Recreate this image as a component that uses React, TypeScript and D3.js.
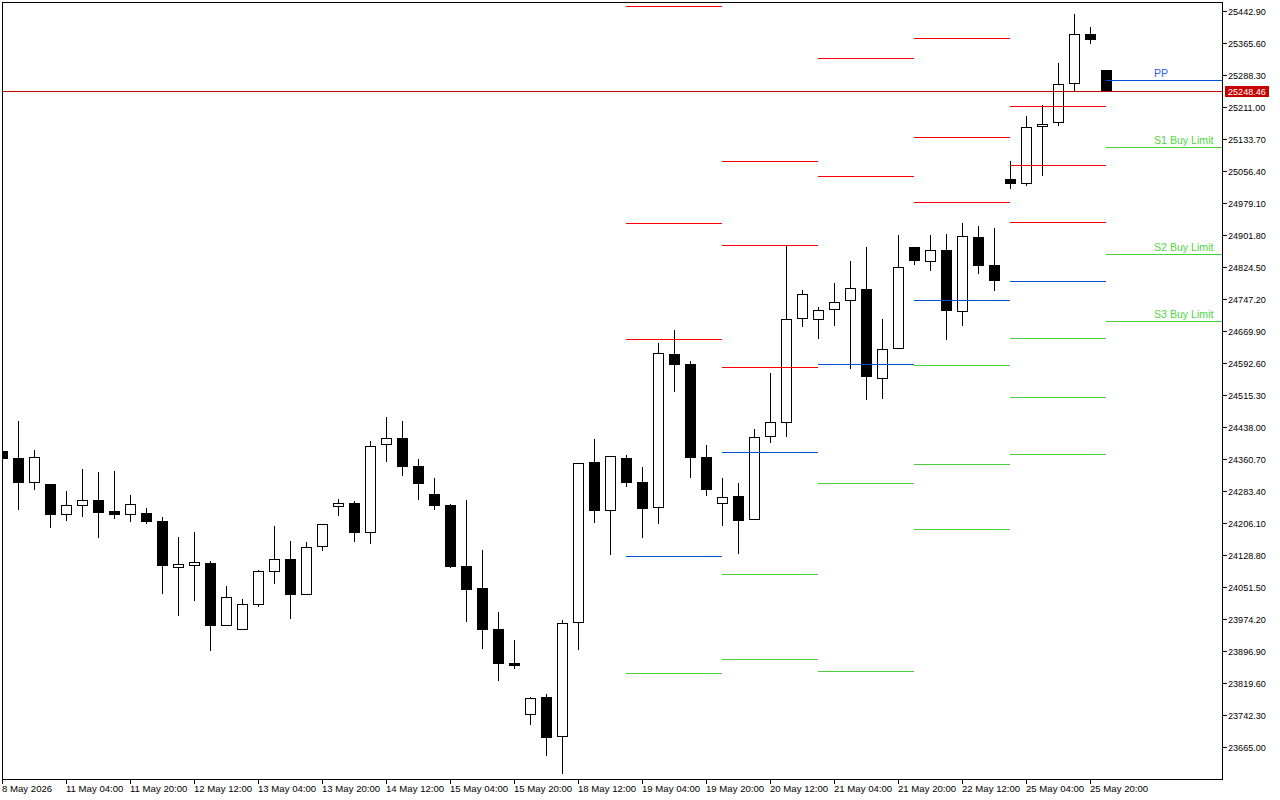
import React from "react";
import * as d3 from "d3";

const opens = [24380.0,24363.1,24302.7,24300.3,24225.4,24247.2,24261.7,24235.1,24225.4,24230.3,24210.9,24097.4,24102.2,24109.5,23957.3,23947.6,24008.0,24087.7,24119.1,24032.2,24148.1,24244.7,24254.4,24182.0,24394.5,24411.4,24343.8,24276.2,24249.6,24102.2,24049.1,23950.0,23867.9,23742.3,23785.8,23689.2,23964.5,24353.5,24235.1,24363.1,24305.1,24242.3,24614.3,24590.2,24365.5,24252.0,24271.3,24213.3,24413.8,24447.7,24698.9,24696.5,24720.6,24742.4,24771.4,24553.9,24626.4,24872.8,24836.6,24865.6,24715.8,24897.0,24829.3,25037.1,25025.0,25162.7,25172.3,25266.6,25387.3,25300.4];
const highs = [24380.0,24452.5,24382.4,24300.3,24283.4,24336.5,24329.3,24331.7,24273.7,24242.3,24220.6,24172.3,24184.4,24114.3,24053.9,24022.5,24092.6,24198.9,24162.6,24160.2,24203.7,24264.1,24259.2,24404.2,24462.2,24452.5,24360.7,24314.8,24252.0,24261.7,24140.9,23991.1,23923.5,23785.8,23793.0,23971.8,24351.0,24409.0,24367.9,24370.4,24341.4,24640.9,24672.3,24597.4,24394.5,24314.8,24302.7,24433.2,24568.4,24877.6,24768.9,24727.9,24785.8,24839.0,24872.8,24698.9,24901.8,24872.8,24901.8,24904.2,24930.8,24923.5,24918.7,25080.6,25189.3,25215.8,25317.3,25435.7,25404.2,25300.4];
const lows = [24360.7,24237.5,24285.8,24194.0,24210.9,24220.6,24169.9,24215.8,24208.5,24203.7,24034.6,23981.5,24017.7,23896.9,23957.3,23947.6,24003.2,24058.7,23974.2,24032.2,24138.5,24223.0,24160.2,24155.4,24353.5,24319.6,24261.7,24237.5,24097.4,23967.0,23901.7,23824.4,23853.4,23718.1,23643.3,23599.8,23899.3,24206.1,24128.8,24293.1,24169.9,24203.7,24522.5,24314.8,24271.3,24198.9,24131.2,24213.3,24399.3,24413.8,24679.5,24650.6,24682.0,24578.1,24503.2,24505.6,24626.4,24829.3,24814.8,24648.2,24682.0,24807.6,24766.5,25012.9,25020.2,25044.3,25165.1,25249.7,25363.2,25248.46];
const closes = [24360.7,24302.7,24365.5,24225.4,24249.6,24261.7,24230.3,24225.4,24252.0,24208.5,24102.2,24107.1,24111.9,23957.3,24027.3,24010.4,24090.1,24119.1,24032.2,24148.1,24203.7,24254.4,24182.0,24392.1,24411.4,24341.4,24300.3,24247.2,24099.8,24044.3,23947.6,23865.5,23860.7,23783.4,23686.7,23964.5,24351.0,24235.1,24367.9,24302.7,24239.9,24616.8,24587.8,24363.1,24285.8,24268.9,24210.9,24413.8,24450.1,24698.9,24759.3,24720.6,24740.0,24773.8,24558.8,24626.4,24824.5,24839.0,24865.6,24718.2,24899.4,24826.9,24790.7,25025.0,25162.7,25169.9,25266.6,25387.3,25372.8,25248.46];

const priceTicks = ["25442.90","25365.60","25288.30","25211.00","25133.70","25056.40","24979.10","24901.80","24824.50","24747.20","24669.90","24592.60","24515.30","24438.00","24360.70","24283.40","24206.10","24128.80","24051.50","23974.20","23896.90","23819.60","23742.30","23665.00"];
const timeLabels = ["8 May 2026","11 May 04:00","11 May 20:00","12 May 12:00","13 May 04:00","13 May 20:00","14 May 12:00","15 May 04:00","15 May 20:00","18 May 12:00","19 May 04:00","19 May 20:00","20 May 12:00","21 May 04:00","21 May 20:00","22 May 12:00","25 May 04:00","25 May 20:00"];
const timeLabelEvery = 4;

// Daily pivot groups: [first bar index, last bar index]
const levelSpans = [[39,45],[45,51],[51,57],[57,63],[63,69],[69,76.25]];
const resistanceLevels = [[25455.0,24930.8,24650.6],[25080.6,24877.6,24582.9],[25329.4,25044.3],[25377.7,25138.5,24981.5],[25213.4,25070.9,24933.2],[]];
const pivotLevels = [24126.4,24377.6,24590.2,24744.8,24790.7,25276.2];
const supportLevels = [[23843.8],[24082.9,23877.6],[24302.7,23848.6],[24587.8,24348.6,24191.6],[24653.0,24510.5,24372.8],[25114.4,24855.9,24694.1]];
const lastPrice = 25248.46;
const levelLabels = ["PP","S1 Buy Limit","S2 Buy Limit","S3 Buy Limit"];
const labelledLevels = [25276.2,25114.4,24855.9,24694.1];

const RED = "#ff0000", BLUE = "#0050dc", GREEN = "#48d23c", PRICE_RED = "#c80000";
const FONT = "'Liberation Sans', sans-serif";
const W = 1280, H = 800, L = 2, T = 2, R = 1222, B = 779;

const yScale = d3.scaleLinear().domain([23665, 25442.9]).range([747, 11]);
const xScale = d3.scaleLinear().domain([0, 69]).range([2, 1106]);
const Y = (p: number) => Math.round(yScale(p));
const X = (i: number) => Math.round(xScale(i));

export default function App() {
  const hline = (p: number, x0: number, x1: number, c: string, k: string) => (
    <rect key={k} x={x0} y={Y(p)} width={x1 - x0} height={1} fill={c} />
  );
  return (
    <svg width={W} height={H} viewBox={`0 0 ${W} ${H}`} style={{ position: "absolute", left: 0, top: 0, background: "#fff" }}>
      <defs><clipPath id="plot"><rect x={L} y={T} width={R - L} height={B - T} /></clipPath></defs>
      <g clipPath="url(#plot)" shapeRendering="crispEdges">
        {opens.map((o, i) => {
          const c = closes[i], x = X(i), top = Y(Math.max(o, c)), bot = Y(Math.min(o, c));
          const up = c > o;
          return (
            <g key={i}>
              <rect x={x} y={Y(highs[i])} width={1} height={Y(lows[i]) - Y(highs[i])} fill="#000" />
              {up
                ? <rect x={x - 4.5} y={top + 0.5} width={10} height={bot - top - 1} fill="#fff" stroke="#000" strokeWidth={1} />
                : <rect x={x - 5} y={top} width={11} height={bot - top} fill="#000" />}
            </g>
          );
        })}
        {hline(lastPrice, L, R, PRICE_RED, "last")}
        {levelSpans.map(([a, b], s) => (
          <g key={s}>
            {resistanceLevels[s].map((p, j) => hline(p, X(a), X(b), RED, `r${j}`))}
            {hline(pivotLevels[s], X(a), X(b), BLUE, "p")}
            {supportLevels[s].map((p, j) => hline(p, X(a), X(b), GREEN, `s${j}`))}
          </g>
        ))}
      </g>
      {levelLabels.map((t, i) => (
        <text key={t} x={1154} y={Y(labelledLevels[i]) - 3} fontFamily={FONT} fontSize={10.6} fill={i === 0 ? "#2a62e6" : "#4fd63f"}>{t}</text>
      ))}
      <g shapeRendering="crispEdges">
        <rect x={L} y={T} width={R - L} height={1} fill="#000" />
        <rect x={L} y={B} width={R - L + 1} height={1} fill="#000" />
        <rect x={L} y={T} width={1} height={B - T} fill="#000" />
        <rect x={R} y={T} width={1} height={B - T} fill="#000" />
        {priceTicks.map((t) => <rect key={t} x={R} y={Y(+t)} width={5} height={1} fill="#000" />)}
        {timeLabels.map((t, i) => <rect key={t} x={X(i * timeLabelEvery)} y={B} width={1} height={5} fill="#000" />)}
        <rect x={1225} y={86} width={44} height={11} fill={PRICE_RED} />
      </g>
      {priceTicks.map((t) => (
        <text key={t} x={1228} y={Y(+t) + 3.5} fontFamily={FONT} fontSize={9.1} fill="#000">{t}</text>
      ))}
      <text x={1228} y={95} fontFamily={FONT} fontSize={9.1} fill="#fff">{lastPrice.toFixed(2)}</text>
      {timeLabels.map((t, i) => (
        <text key={t} x={X(i * timeLabelEvery)} y={792} fontFamily={FONT} fontSize={9.6} fill="#000">{t}</text>
      ))}
    </svg>
  );
}
